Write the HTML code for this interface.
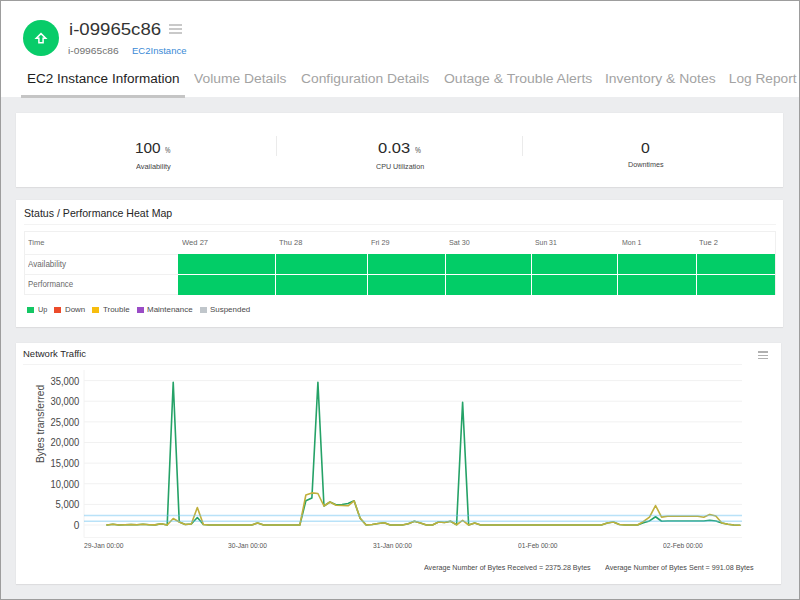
<!DOCTYPE html>
<html><head><meta charset="utf-8">
<style>
html,body{margin:0;padding:0;}
body{width:800px;height:600px;overflow:hidden;position:relative;background:#fff;font-family:"Liberation Sans",sans-serif;}
.t{position:absolute;white-space:nowrap;transform-origin:0 50%;font-family:"Liberation Sans",sans-serif;}
.abs{position:absolute;}
.bg{left:0;top:97px;width:800px;height:503px;background:#ecedef;}
.card{background:#fff;box-shadow:0 0 1px rgba(0,0,0,0.07),0 1px 1px rgba(0,0,0,0.05);}
.frame{left:0;top:0;width:800px;height:600px;box-sizing:border-box;border:1px solid #9d9d9d;z-index:50;}
.sep{background:#ebebeb;width:1px;}
.hb{background:#c9c9c9;}
.cell{background:#02cd67;}
.wl{background:#fff;}
.tb{background:#f1f1f1;}
</style></head><body>
<div class="abs bg"></div>
<!-- header -->
<div class="abs" style="left:23px;top:20px;width:36px;height:36px;border-radius:50%;background:#08cc69;"></div>
<svg class="abs" style="left:0;top:0" width="80" height="60" viewBox="0 0 80 60">
<path d="M41,33.6 L36.3,38.2 L38.9,38.2 L38.9,42.7 L43.1,42.7 L43.1,38.2 L45.7,38.2 Z" fill="none" stroke="#fff" stroke-width="1.5" stroke-linejoin="miter"/>
</svg>
<div class="abs hb" style="left:169px;top:23.5px;width:12.5px;height:2px;"></div>
<div class="abs hb" style="left:169px;top:27.8px;width:12.5px;height:2px;"></div>
<div class="abs hb" style="left:169px;top:32px;width:12.5px;height:2px;"></div>
<div class="abs" style="left:21px;top:95px;width:164px;height:3px;background:#c5c5c5;"></div>
<!-- card 1 -->
<div class="abs card" style="left:16px;top:113px;width:767px;height:74px;"></div>
<div class="abs sep" style="left:276px;top:136px;height:20px;"></div>
<div class="abs sep" style="left:522px;top:136px;height:20px;"></div>
<!-- card 2 -->
<div class="abs card" style="left:16px;top:200px;width:767px;height:126.5px;"></div>
<div class="abs tb" style="left:24px;top:224px;width:752px;height:1px;background:#f3f3f3"></div>
<div class="abs" style="left:24px;top:231px;width:750px;height:62px;border:1px solid #f0f0f0;"></div>
<div class="abs tb" style="left:24px;top:254px;width:154px;height:1px;"></div>
<div class="abs tb" style="left:24px;top:274px;width:154px;height:1px;"></div>
<div class="abs cell" style="left:178px;top:254px;width:597px;height:41px;"></div>
<div class="abs wl" style="left:178px;top:274px;width:597px;height:1px;"></div>
<div class="abs wl" style="left:275px;top:254px;width:1px;height:41px;"></div>
<div class="abs wl" style="left:367px;top:254px;width:1px;height:41px;"></div>
<div class="abs wl" style="left:445px;top:254px;width:1px;height:41px;"></div>
<div class="abs wl" style="left:531.3px;top:254px;width:1px;height:41px;"></div>
<div class="abs wl" style="left:617px;top:254px;width:1px;height:41px;"></div>
<div class="abs wl" style="left:696.3px;top:254px;width:1px;height:41px;"></div>
<div class="abs" style="left:27px;top:306.8px;width:7px;height:6.7px;background:#14c764;"></div>
<div class="abs" style="left:54.2px;top:306.8px;width:6.8px;height:6.7px;background:#ec4b2b;"></div>
<div class="abs" style="left:92.2px;top:306.8px;width:6.8px;height:6.7px;background:#f7bd0e;"></div>
<div class="abs" style="left:137px;top:306.8px;width:6.8px;height:6.7px;background:#9a4cc6;"></div>
<div class="abs" style="left:200px;top:306.8px;width:6.6px;height:6.7px;background:#c0c6cb;"></div>
<!-- card 3 -->
<div class="abs card" style="left:16px;top:343px;width:765px;height:241px;"></div>
<div class="abs" style="left:23px;top:364px;width:719px;height:1px;background:#f3f3f3"></div>
<div class="abs" style="left:758px;top:351.3px;width:10px;height:1.3px;background:#b0b0b0"></div>
<div class="abs" style="left:758px;top:354.7px;width:10px;height:1.3px;background:#b0b0b0"></div>
<div class="abs" style="left:758px;top:357.9px;width:10px;height:1.3px;background:#b0b0b0"></div>
<svg class="chart" width="800" height="600" viewBox="0 0 800 600" style="position:absolute;left:0;top:0">
<line x1="84" y1="380.60" x2="742" y2="380.60" stroke="#f1f1f1" stroke-width="1"/>
<line x1="84" y1="401.23" x2="742" y2="401.23" stroke="#f1f1f1" stroke-width="1"/>
<line x1="84" y1="421.86" x2="742" y2="421.86" stroke="#f1f1f1" stroke-width="1"/>
<line x1="84" y1="442.49" x2="742" y2="442.49" stroke="#f1f1f1" stroke-width="1"/>
<line x1="84" y1="463.12" x2="742" y2="463.12" stroke="#f1f1f1" stroke-width="1"/>
<line x1="84" y1="483.75" x2="742" y2="483.75" stroke="#f1f1f1" stroke-width="1"/>
<line x1="84" y1="504.38" x2="742" y2="504.38" stroke="#f1f1f1" stroke-width="1"/>
<line x1="84" y1="525.01" x2="742" y2="525.01" stroke="#f1f1f1" stroke-width="1"/>
<line x1="84" y1="370" x2="84" y2="537.5" stroke="#f2f2f2" stroke-width="1"/>
<line x1="84" y1="537.5" x2="742" y2="537.5" stroke="#f4f4f4" stroke-width="1"/>
<text x="50.50" y="384.60" font-family="Liberation Sans" font-size="10.2" fill="#474747" textLength="28.8" lengthAdjust="spacingAndGlyphs">35,000</text>
<text x="50.50" y="405.23" font-family="Liberation Sans" font-size="10.2" fill="#474747" textLength="28.8" lengthAdjust="spacingAndGlyphs">30,000</text>
<text x="50.50" y="425.86" font-family="Liberation Sans" font-size="10.2" fill="#474747" textLength="28.8" lengthAdjust="spacingAndGlyphs">25,000</text>
<text x="50.50" y="446.49" font-family="Liberation Sans" font-size="10.2" fill="#474747" textLength="28.8" lengthAdjust="spacingAndGlyphs">20,000</text>
<text x="50.50" y="467.12" font-family="Liberation Sans" font-size="10.2" fill="#474747" textLength="28.8" lengthAdjust="spacingAndGlyphs">15,000</text>
<text x="50.50" y="487.75" font-family="Liberation Sans" font-size="10.2" fill="#474747" textLength="28.8" lengthAdjust="spacingAndGlyphs">10,000</text>
<text x="55.50" y="508.38" font-family="Liberation Sans" font-size="10.2" fill="#474747" textLength="23.8" lengthAdjust="spacingAndGlyphs">5,000</text>
<text x="73.70" y="529.01" font-family="Liberation Sans" font-size="10.2" fill="#474747" textLength="5.6" lengthAdjust="spacingAndGlyphs">0</text>
<text transform="translate(44.3,423.9) rotate(-90)" text-anchor="middle" font-family="Liberation Sans" font-size="10.3" fill="#4a4a4a">Bytes transferred</text>
<polyline points="106.90,525.00 112.93,524.20 118.96,525.00 124.99,524.80 131.02,524.60 137.05,524.80 143.07,524.30 149.10,524.70 155.13,524.90 161.16,523.80 167.19,525.00 173.22,382.20 179.25,522.00 185.28,524.50 191.31,524.00 197.34,517.50 203.36,524.50 209.39,525.00 215.42,525.00 221.45,525.00 227.48,525.00 233.51,525.00 239.54,525.00 245.57,525.00 251.60,525.00 257.62,523.00 263.65,525.00 269.68,525.00 275.71,525.00 281.74,525.00 287.77,525.00 293.80,525.00 299.83,525.00 305.86,500.80 311.89,498.00 317.91,382.20 323.94,506.00 329.97,502.00 336.00,504.80 342.03,504.50 348.06,503.50 354.09,500.80 360.12,518.25 366.15,525.00 372.18,524.50 378.21,523.50 384.23,522.70 390.26,525.00 396.29,525.00 402.32,525.00 408.35,523.80 414.38,521.30 420.41,523.00 426.44,525.00 432.47,525.00 438.50,522.00 444.52,522.50 450.55,521.30 456.58,524.75 462.61,402.20 468.64,525.00 474.67,523.00 480.70,525.00 486.73,525.00 492.76,525.00 498.78,525.00 504.81,525.00 510.84,525.00 516.87,525.00 522.90,525.00 528.93,525.00 534.96,525.00 540.99,525.00 547.02,525.00 553.05,525.00 559.08,525.00 565.10,525.00 571.13,525.00 577.16,525.00 583.19,525.00 589.22,525.00 595.25,525.00 601.28,525.00 607.31,523.00 613.34,522.00 619.37,524.50 625.39,525.00 631.42,525.00 637.45,525.00 643.48,522.75 649.51,520.90 655.54,516.75 661.57,521.25 667.60,521.00 673.63,521.00 679.65,521.00 685.68,521.00 691.71,521.00 697.74,521.00 703.77,521.00 709.80,520.20 715.83,521.00 721.86,523.00 727.89,524.30 733.92,525.00 739.94,525.20" fill="none" stroke="#25a267" stroke-width="1.6" stroke-linejoin="round" stroke-linecap="round"/>
<polyline points="106.90,525.00 112.93,524.20 118.96,525.00 124.99,524.80 131.02,524.60 137.05,524.80 143.07,524.30 149.10,524.70 155.13,524.90 161.16,523.80 167.19,525.00 173.22,518.50 179.25,522.00 185.28,524.50 191.31,524.00 197.34,507.50 203.36,524.50 209.39,525.00 215.42,525.00 221.45,525.00 227.48,525.00 233.51,525.00 239.54,525.00 245.57,525.00 251.60,525.00 257.62,523.00 263.65,525.00 269.68,525.00 275.71,525.00 281.74,525.00 287.77,525.00 293.80,525.00 299.83,525.00 305.86,495.00 311.89,492.90 317.91,493.50 323.94,506.00 329.97,502.00 336.00,505.30 342.03,505.50 348.06,505.80 354.09,500.80 360.12,518.25 366.15,525.00 372.18,524.50 378.21,523.50 384.23,522.70 390.26,525.00 396.29,525.00 402.32,525.00 408.35,523.80 414.38,521.30 420.41,523.00 426.44,525.00 432.47,525.00 438.50,522.00 444.52,522.50 450.55,521.30 456.58,524.75 462.61,520.40 468.64,525.00 474.67,523.00 480.70,525.00 486.73,525.00 492.76,525.00 498.78,525.00 504.81,525.00 510.84,525.00 516.87,525.00 522.90,525.00 528.93,525.00 534.96,525.00 540.99,525.00 547.02,525.00 553.05,525.00 559.08,525.00 565.10,525.00 571.13,525.00 577.16,525.00 583.19,525.00 589.22,525.00 595.25,525.00 601.28,525.00 607.31,523.00 613.34,522.00 619.37,524.50 625.39,525.00 631.42,525.00 637.45,525.00 643.48,521.50 649.51,517.10 655.54,505.50 661.57,517.10 667.60,516.20 673.63,516.20 679.65,516.20 685.68,516.20 691.71,516.20 697.74,516.20 703.77,517.30 709.80,514.40 715.83,516.00 721.86,523.00 727.89,524.30 733.92,525.00 739.94,525.20" fill="none" stroke="#c0b03c" stroke-width="1.6" stroke-linejoin="round" stroke-linecap="round"/>
<line x1="84" y1="515.4" x2="742" y2="515.4" stroke="rgb(100,190,240)" stroke-opacity="0.45" stroke-width="1.5"/>
<line x1="84" y1="521.3" x2="742" y2="521.3" stroke="rgb(100,190,240)" stroke-opacity="0.45" stroke-width="1.5"/>
</svg>
<span class="t" style="left:68.60px;top:21.68px;font-size:16.8px;line-height:16.8px;color:#333;transform:scaleX(1.1097);">i-09965c86</span>
<span class="t" style="left:68.40px;top:46.58px;font-size:9.0px;line-height:9.0px;color:#707070;transform:scaleX(1.1380);">i-09965c86</span>
<span class="t" style="left:132.40px;top:46.58px;font-size:9.0px;line-height:9.0px;color:#3a8ad6;transform:scaleX(1.0570);">EC2Instance</span>
<span class="t" style="left:26.60px;top:71.50px;font-size:13.7px;line-height:13.7px;color:#1e1e1e;transform:scaleX(0.9874);">EC2 Instance Information</span>
<span class="t" style="left:194.40px;top:71.50px;font-size:13.7px;line-height:13.7px;color:#a3a3a3;transform:scaleX(1.0121);">Volume Details</span>
<span class="t" style="left:300.60px;top:71.50px;font-size:13.7px;line-height:13.7px;color:#a3a3a3;transform:scaleX(1.0095);">Configuration Details</span>
<span class="t" style="left:443.60px;top:71.50px;font-size:13.7px;line-height:13.7px;color:#a3a3a3;transform:scaleX(1.0207);">Outage &amp; Trouble Alerts</span>
<span class="t" style="left:605.20px;top:71.50px;font-size:13.7px;line-height:13.7px;color:#a3a3a3;transform:scaleX(1.0167);">Inventory &amp; Notes</span>
<span class="t" style="left:728.80px;top:71.50px;font-size:13.7px;line-height:13.7px;color:#a3a3a3;">Log Report</span>
<span class="t" style="left:134.60px;top:140.15px;font-size:15.3px;line-height:15.3px;color:#2a2a2a;transform:scaleX(1.0046);">100</span>
<span class="t" style="left:165.20px;top:145.99px;font-size:8.4px;line-height:8.4px;color:#454545;transform:scaleX(0.7317);">%</span>
<span class="t" style="left:136.00px;top:163.31px;font-size:7.2px;line-height:7.2px;color:#444;transform:scaleX(1.0282);">Availability</span>
<span class="t" style="left:378.00px;top:140.15px;font-size:15.3px;line-height:15.3px;color:#2a2a2a;transform:scaleX(1.0801);">0.03</span>
<span class="t" style="left:415.00px;top:145.99px;font-size:8.4px;line-height:8.4px;color:#454545;transform:scaleX(0.7921);">%</span>
<span class="t" style="left:376.00px;top:163.31px;font-size:7.2px;line-height:7.2px;color:#444;transform:scaleX(0.9969);">CPU Utilization</span>
<span class="t" style="left:641.00px;top:140.15px;font-size:15.3px;line-height:15.3px;color:#2a2a2a;transform:scaleX(1.0338);">0</span>
<span class="t" style="left:628.00px;top:160.61px;font-size:7.2px;line-height:7.2px;color:#444;">Downtimes</span>
<span class="t" style="left:24.00px;top:207.86px;font-size:10.8px;line-height:10.8px;color:#262626;transform:scaleX(0.9801);">Status / Performance Heat Map</span>
<span class="t" style="left:28.00px;top:238.77px;font-size:7.6px;line-height:7.6px;color:#6a6a6a;transform:scaleX(0.9949);">Time</span>
<span class="t" style="left:27.60px;top:259.57px;font-size:8.3px;line-height:8.3px;color:#6a6a6a;transform:scaleX(0.9744);">Availability</span>
<span class="t" style="left:27.60px;top:279.87px;font-size:8.3px;line-height:8.3px;color:#6a6a6a;transform:scaleX(0.9492);">Performance</span>
<span class="t" style="left:181.60px;top:238.87px;font-size:7.6px;line-height:7.6px;color:#666;transform:scaleX(1.0025);">Wed 27</span>
<span class="t" style="left:279.00px;top:238.87px;font-size:7.6px;line-height:7.6px;color:#666;transform:scaleX(0.9870);">Thu 28</span>
<span class="t" style="left:371.40px;top:238.87px;font-size:7.6px;line-height:7.6px;color:#666;transform:scaleX(0.9587);">Fri 29</span>
<span class="t" style="left:449.00px;top:238.87px;font-size:7.6px;line-height:7.6px;color:#666;transform:scaleX(0.9441);">Sat 30</span>
<span class="t" style="left:535.00px;top:238.87px;font-size:7.6px;line-height:7.6px;color:#666;transform:scaleX(0.9030);">Sun 31</span>
<span class="t" style="left:622.00px;top:238.87px;font-size:7.6px;line-height:7.6px;color:#666;transform:scaleX(0.9130);">Mon 1</span>
<span class="t" style="left:699.00px;top:238.87px;font-size:7.6px;line-height:7.6px;color:#666;transform:scaleX(0.9904);">Tue 2</span>
<span class="t" style="left:38.20px;top:306.43px;font-size:8.0px;line-height:8.0px;color:#4a4a4a;transform:scaleX(0.9127);">Up</span>
<span class="t" style="left:65.00px;top:306.43px;font-size:8.0px;line-height:8.0px;color:#4a4a4a;transform:scaleX(0.9885);">Down</span>
<span class="t" style="left:103.00px;top:306.43px;font-size:8.0px;line-height:8.0px;color:#4a4a4a;transform:scaleX(0.9910);">Trouble</span>
<span class="t" style="left:147.00px;top:306.43px;font-size:8.0px;line-height:8.0px;color:#4a4a4a;transform:scaleX(0.9958);">Maintenance</span>
<span class="t" style="left:210.00px;top:306.43px;font-size:8.0px;line-height:8.0px;color:#4a4a4a;transform:scaleX(0.9940);">Suspended</span>
<span class="t" style="left:23.00px;top:349.16px;font-size:9.5px;line-height:9.5px;color:#2a2a2a;transform:scaleX(0.9985);">Network Traffic</span>
<span class="t" style="left:84.40px;top:542.86px;font-size:6.9px;line-height:6.9px;color:#555;transform:scaleX(0.9802);">29-Jan 00:00</span>
<span class="t" style="left:228.40px;top:542.86px;font-size:6.9px;line-height:6.9px;color:#555;transform:scaleX(0.9666);">30-Jan 00:00</span>
<span class="t" style="left:373.40px;top:542.86px;font-size:6.9px;line-height:6.9px;color:#555;transform:scaleX(0.9672);">31-Jan 00:00</span>
<span class="t" style="left:517.60px;top:542.86px;font-size:6.9px;line-height:6.9px;color:#555;transform:scaleX(0.9647);">01-Feb 00:00</span>
<span class="t" style="left:663.20px;top:542.86px;font-size:6.9px;line-height:6.9px;color:#555;transform:scaleX(0.9683);">02-Feb 00:00</span>
<span class="t" style="left:424.00px;top:563.91px;font-size:7.2px;line-height:7.2px;color:#484848;transform:scaleX(0.9905);">Average Number of Bytes Received = 2375.28 Bytes</span>
<span class="t" style="left:605.40px;top:563.91px;font-size:7.2px;line-height:7.2px;color:#484848;transform:scaleX(0.9967);">Average Number of Bytes Sent = 991.08 Bytes</span>
<div class="abs frame"></div>
</body></html>
